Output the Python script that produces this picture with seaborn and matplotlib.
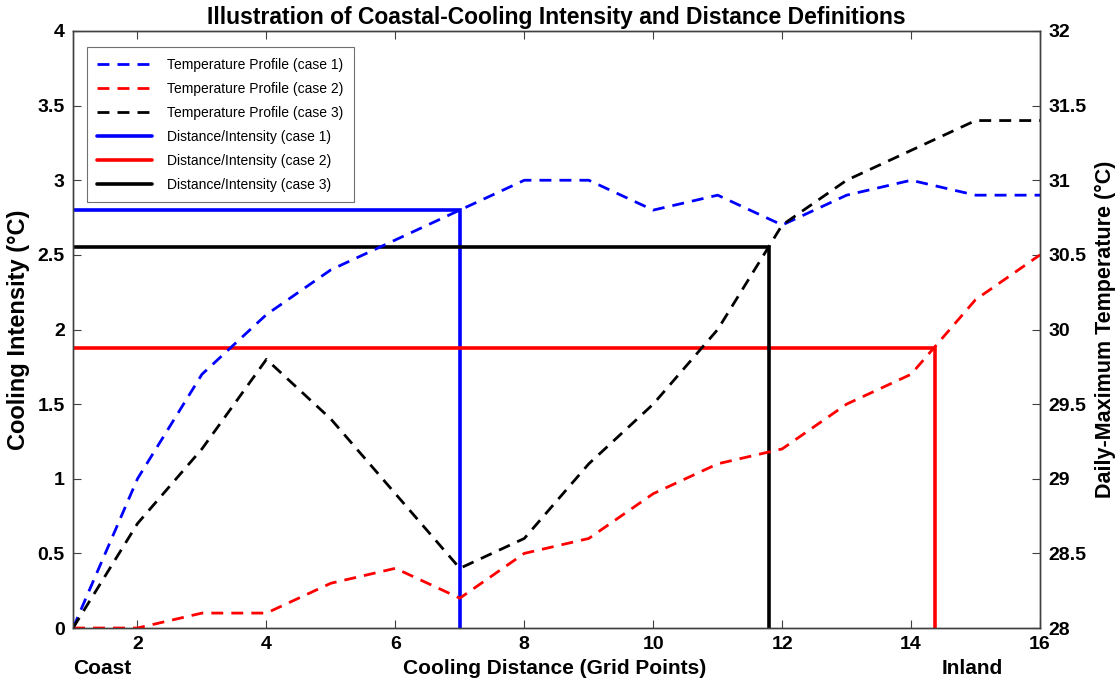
import matplotlib
matplotlib.use("Agg")
import matplotlib.pyplot as plt
import seaborn as sns
import pandas as pd
import numpy as np

sns.set_theme(style="white")
plt.rcParams['font.family'] = ['Liberation Sans', 'DejaVu Sans']
plt.rcParams['text.color'] = 'black'
plt.rcParams['axes.labelcolor'] = 'black'
plt.rcParams['xtick.color'] = 'black'
plt.rcParams['ytick.color'] = 'black'

grid_points = list(range(1, 17))
temp_case1 = [28.0, 29.0, 29.7, 30.1, 30.4, 30.6, 30.8, 31.0, 31.0, 30.8, 30.9, 30.7, 30.9, 31.0, 30.9, 30.9]
temp_case2 = [28.0, 28.0, 28.1, 28.1, 28.3, 28.4, 28.2, 28.5, 28.6, 28.9, 29.1, 29.2, 29.5, 29.7, 30.2, 30.5]
temp_case3 = [28.0, 28.7, 29.2, 29.8, 29.4, 28.9, 28.4, 28.6, 29.1, 29.5, 30.0, 30.7, 31.0, 31.2, 31.4, 31.4]
intensity = [2.8, 1.875, 2.55]
distance = [7.0, 14.37, 11.79]
case_names = ["case 1", "case 2", "case 3"]
colors = ["#0000ff", "#ff0000", "#000000"]

fig = plt.figure(figsize=(11.2, 6.81), dpi=100)
ax = fig.add_axes([0.0652, 0.0778, 0.9286 - 0.0652, 0.9545 - 0.0778])
ax2 = ax.twinx()

handles = []
labels = []
for temps, name, c in zip([temp_case1, temp_case2, temp_case3], case_names, colors):
    df = pd.DataFrame({"x": grid_points, "t": temps})
    sns.lineplot(data=df, x="x", y="t", ax=ax2, color=c, lw=2.0, legend=False)
    ln = ax2.lines[-1]
    ln.set_dashes((4.3, 2.9))
    handles.append(ln)
    labels.append(f"Temperature Profile ({name})")

for I, d, name, c in zip(intensity, distance, case_names, colors):
    df = pd.DataFrame({"x": [1, d, d], "y": [I, I, 0]})
    sns.lineplot(data=df, x="x", y="y", ax=ax, color=c, lw=2.6, sort=False,
                 estimator=None, legend=False)
    ln = ax.lines[-1]
    ln.set_solid_joinstyle("miter")
    handles.append(ln)
    labels.append(f"Distance/Intensity ({name})")

ax.set_xlim(1, 16)
ax.set_ylim(0, 4)
ax2.set_ylim(28, 32)
ax.set_xticks(np.arange(2, 17, 2))
ax.set_yticks(np.arange(0, 4.01, 0.5))
ax2.set_yticks(np.arange(28, 32.01, 0.5))
ax.set_yticklabels([f"{v:g}" for v in np.arange(0, 4.01, 0.5)])
ax2.set_yticklabels([f"{v:g}" for v in np.arange(28, 32.01, 0.5)])

for a in (ax, ax2):
    for s in a.spines.values():
        s.set_color("#404040")
        s.set_linewidth(1.0)
    a.tick_params(direction="in", length=6, width=0.8, color="#404040",
                  labelsize=14, labelcolor="black", top=True)
    for lab in a.get_xticklabels() + a.get_yticklabels():
        lab.set_fontweight("bold")
ax.tick_params(axis="both", which="both", left=True, bottom=True, top=True, right=False, pad=6)
ax2.tick_params(axis="y", right=True, pad=6)

ax.set_xlabel("")
ax2.set_ylabel("")
ax.set_ylabel("Cooling Intensity (°C)", fontsize=17, fontweight="bold")
ax2.set_ylabel("Daily-Maximum Temperature (°C)", fontsize=15.5, fontweight="bold")
ax.yaxis.set_label_coords(-0.045, 0.5)
ax2.yaxis.set_label_coords(1.057, 0.5)
ax.set_title("Illustration of Coastal-Cooling Intensity and Distance Definitions",
             fontsize=16.5, fontweight="bold", pad=5)

fig.text(0.4955, 0.019, "Cooling Distance (Grid Points)", ha="center", va="center",
         fontsize=15, fontweight="bold")
fig.text(0.0652, 0.019, "Coast", ha="left", va="center", fontsize=15, fontweight="bold")
fig.text(0.8955, 0.019, "Inland", ha="right", va="center", fontsize=15, fontweight="bold")

leg = ax2.legend(handles, labels, loc="upper left", bbox_to_anchor=(0.0145, 0.973),
                 frameon=True, fancybox=False, edgecolor="#707070", framealpha=1.0,
                 handlelength=3.9, labelspacing=0.72, borderpad=0.75, handletextpad=1.1,
                 borderaxespad=0.0,
                 prop={"family": ["Liberation Sans", "DejaVu Sans"], "size": 10})
leg.get_frame().set_linewidth(0.8)

fig.savefig("out.png", dpi=100)
